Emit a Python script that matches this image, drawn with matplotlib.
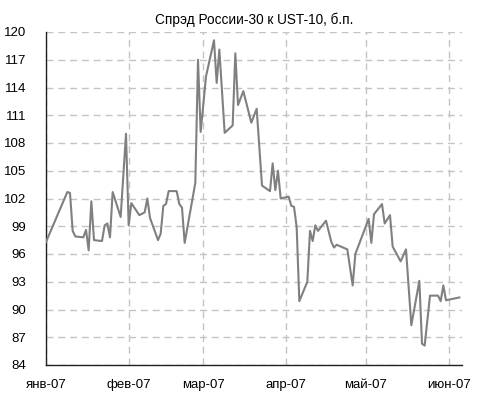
import matplotlib
matplotlib.use("Agg")
import matplotlib.pyplot as plt
import pandas as pd

title = "Спрэд России-30 к UST-10, б.п."
dates = ["2007-01-01", "2007-01-09", "2007-01-10", "2007-01-11", "2007-01-12",
         "2007-01-15", "2007-01-16", "2007-01-17", "2007-01-18", "2007-01-19",
         "2007-01-22", "2007-01-23", "2007-01-24", "2007-01-25", "2007-01-26",
         "2007-01-29", "2007-01-31", "2007-02-01", "2007-02-02", "2007-02-05",
         "2007-02-07", "2007-02-08", "2007-02-09", "2007-02-12", "2007-02-13",
         "2007-02-14", "2007-02-15", "2007-02-16", "2007-02-19", "2007-02-20",
         "2007-02-21", "2007-02-22", "2007-02-26", "2007-02-27", "2007-02-28",
         "2007-03-02", "2007-03-05", "2007-03-06", "2007-03-07", "2007-03-09",
         "2007-03-12", "2007-03-13", "2007-03-14", "2007-03-16", "2007-03-19",
         "2007-03-21", "2007-03-23", "2007-03-26", "2007-03-27", "2007-03-28",
         "2007-03-29", "2007-03-30", "2007-04-02", "2007-04-03", "2007-04-04",
         "2007-04-05", "2007-04-06", "2007-04-09", "2007-04-10", "2007-04-11",
         "2007-04-12", "2007-04-13", "2007-04-16", "2007-04-18", "2007-04-19",
         "2007-04-20", "2007-04-24", "2007-04-26", "2007-04-27", "2007-05-02",
         "2007-05-03", "2007-05-04", "2007-05-07", "2007-05-08", "2007-05-10",
         "2007-05-11", "2007-05-14", "2007-05-16", "2007-05-18", "2007-05-21",
         "2007-05-22", "2007-05-23", "2007-05-25", "2007-05-28", "2007-05-29",
         "2007-05-30", "2007-05-31", "2007-06-05"]
spread = [97.3, 102.7, 102.6, 98.5, 97.9,
          97.8, 98.6, 96.4, 101.7, 97.5,
          97.4, 99.1, 99.3, 97.8, 102.7,
          100.0, 109.0, 99.1, 101.5, 100.2,
          100.5, 102.0, 99.9, 97.5, 98.2,
          101.2, 101.4, 102.8, 102.8, 101.4,
          101.0, 97.2, 103.7, 117.0, 109.2,
          115.2, 119.1, 114.5, 118.1, 109.1,
          109.9, 117.7, 112.1, 113.6, 110.2,
          111.7, 103.4, 102.8, 105.8, 102.9,
          105.0, 102.0, 102.2, 101.2, 101.1,
          98.9, 90.9, 93.0, 98.5, 97.4,
          99.1, 98.5, 99.6, 97.3, 96.7,
          97.0, 96.5, 92.6, 96.0, 99.8,
          97.2, 100.3, 101.4, 99.3, 100.2,
          96.8, 95.2, 96.5, 88.3, 93.1,
          86.3, 86.1, 91.5, 91.5, 90.9,
          92.6, 91.0, 91.3]
month_ticks = ["2007-01-01", "2007-02-01", "2007-03-01", "2007-04-01", "2007-05-01", "2007-06-01"]
month_labels = ["янв-07", "фев-07", "мар-07", "апр-07", "май-07", "июн-07"]
y_ticks = list(range(84, 121, 3))

plt.rcParams['font.family'] = ['Liberation Sans', 'DejaVu Sans']

fig = plt.figure(figsize=(4.78, 4.05), dpi=100)
ax = fig.add_axes([46/478, 40/405, 416/478, 333/405])

x = pd.to_datetime(dates)
ax.plot(x, spread, color="#808080", lw=1.5, zorder=3)

ax.set_xlim(pd.Timestamp("2007-01-01"), pd.Timestamp("2007-06-06"))
ax.set_ylim(84, 120)
ax.set_yticks(y_ticks)
ax.set_xticks(pd.to_datetime(month_ticks))
ax.set_xticklabels(month_labels)

grid_kw = dict(color="#c4c4c4", lw=1.0, linestyle=(0, (5, 3.5)))
ax.grid(True, axis="both", **grid_kw)
ax.set_axisbelow(True)

for s in ["top", "right"]:
    ax.spines[s].set_visible(False)
for s in ["left", "bottom"]:
    ax.spines[s].set_color("#202020")
    ax.spines[s].set_linewidth(1.0)

ax.tick_params(axis="both", length=0, labelsize=9.5, colors="#000000")
ax.tick_params(axis="x", pad=10)
ax.tick_params(axis="y", pad=14)

ax.set_title(title, fontsize=9.8, pad=6)

fig.savefig("out.png", dpi=100)
